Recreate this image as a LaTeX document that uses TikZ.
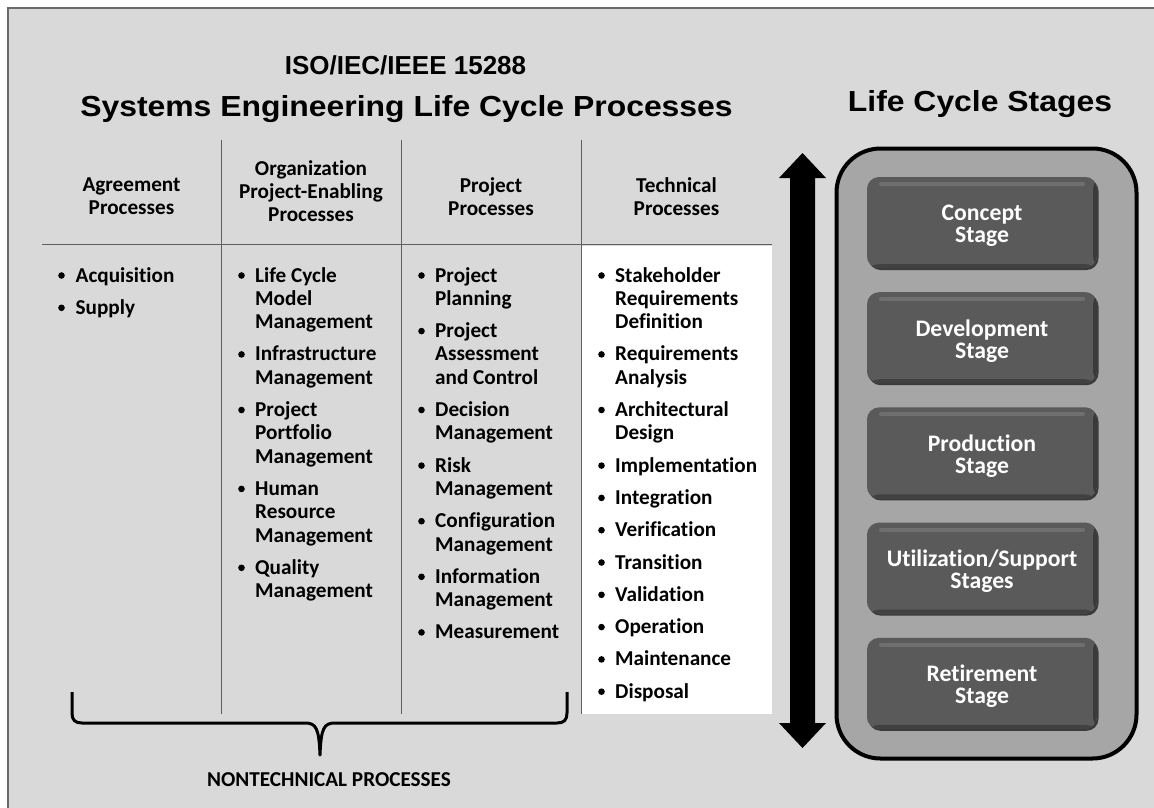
\documentclass[tikz,border=0pt]{standalone}
\usepackage{fontspec}
\setmainfont{Carlito}[Ligatures=NoCommon]
\newfontfamily\ttlfont[FakeStretch=1.1]{Liberation Sans}
\newfontfamily\isofnt{Liberation Sans}
\usetikzlibrary{shadows}
\definecolor{bgc}{HTML}{D9D9D9}
\definecolor{framec}{HTML}{6A6A6A}
\definecolor{rulec}{HTML}{5F5F5F}
\definecolor{contc}{HTML}{A6A6A6}
\definecolor{stagec}{HTML}{5A5A5A}
\definecolor{stagehi}{HTML}{6F6F6F}
\definecolor{stagesh}{HTML}{3A3A3A}
\begin{document}
\begin{tikzpicture}[x=1pt,y=-1pt,
  body/.style={font=\fontsize{21.2}{23.3}\selectfont\bfseries, inner sep=0pt, anchor=base west},
  head/.style={font=\fontsize{21.2}{23.3}\selectfont\bfseries, inner sep=0pt, anchor=base},
  rule/.style={draw=rulec, line width=1.5pt},
  bul/.style={fill=black},
  stagebox/.style={fill=stagec, rounded corners=12pt, minimum width=230pt, minimum height=91pt, inner sep=0pt,
    drop shadow={shadow xshift=1.5pt, shadow yshift=-2pt, fill=stagesh, opacity=1},
    path picture={
      \fill[stagesh] ([xshift=-4pt]path picture bounding box.north east) rectangle (path picture bounding box.south east);
      \fill[stagesh!80!stagec] ([yshift=4pt]path picture bounding box.south west) rectangle (path picture bounding box.south east);
      \draw[stagehi, line width=4pt, line cap=round]
      ([xshift=14pt,yshift=-7pt]path picture bounding box.north west) --
      ([xshift=-14pt,yshift=-7pt]path picture bounding box.north east);}},
  stagetxt/.style={text=white, font=\fontsize{23.7}{22}\selectfont\bfseries, align=center, inner sep=0pt},
]
\useasboundingbox (0,0) rectangle (1154,807);
\clip (0,0) rectangle (1154,807);
\fill[white] (0,0) rectangle (1154,807);
\draw[fill=bgc, draw=framec, line width=1.8pt] (8,8) rectangle (1180,840);

% titles
\node[font=\isofnt\fontsize{26}{30}\selectfont\bfseries, anchor=base, inner sep=0pt] (iso) at (405.5,74) {ISO/IEC/IEEE 15288};
\node[font=\ttlfont\fontsize{29}{32}\selectfont\bfseries, anchor=base, inner sep=0pt] (ttl) at (406.5,116) {Systems Engineering Life Cycle Processes};
\node[font=\ttlfont\fontsize{29}{32}\selectfont\bfseries, anchor=base, inner sep=0pt] (lcs) at (980,111) {Life Cycle Stages};

% table
\fill[white] (582,245.5) rectangle (772,714);
\draw[rule] (42,244.5) -- (772,244.5);
\foreach \x in {221.5,401.5,581.5} \draw[rule] (\x,140) -- (\x,714);

% headers
\node[head] (h1a) at (131.5,191) {Agreement};
\node[head] (h1b) at (131.5,214) {Processes};
\node[head] (h2a) at (311,175) {Organization};
\node[head] (h2b) at (311,198) {Project-Enabling};
\node[head] (h2c) at (311,221) {Processes};
\node[head] (h3a) at (491,192) {Project};
\node[head] (h3b) at (491,215) {Processes};
\node[head] (h4a) at (676.5,192) {Technical};
\node[head] (h4b) at (676.5,215) {Processes};

% column 1
\foreach \t/\y [count=\i] in {Acquisition/282, Supply/314.3}
  \node[body] (a\i) at (75.5,\y) {\t};
\foreach \y in {282,314.3} \fill[bul] (61.5,\y-6.5) circle (3.3pt);

% column 2
\foreach \t/\y [count=\i] in {Life Cycle/282, Model/305.3, Management/328.6, Infrastructure/360.9, Management/384.2, Project/416.5, Portfolio/439.8, Management/463.1, Human/495.4, Resource/518.7, Management/542.0, Quality/574.3, Management/597.6}
  \node[body] (b\i) at (255,\y) {\t};
\foreach \y in {282,360.9,416.5,495.4,574.3} \fill[bul] (241.5,\y-6.5) circle (3.3pt);

% column 3
\foreach \t/\y [count=\i] in {Project/282, Planning/305.3, Project/337.6, Assessment/360.9, and Control/384.2, Decision/416.5, Management/439.8, Risk/472.1, Management/495.4, Configuration/527.7, Management/551.0, Information/583.3, Management/606.6, Measurement/638.9}
  \node[body] (c\i) at (435,\y) {\t};
\foreach \y in {282,337.6,416.5,472.1,527.7,583.3,638.9} \fill[bul] (421.5,\y-6.5) circle (3.3pt);

% column 4
\foreach \t/\y [count=\i] in {Stakeholder/282, Requirements/305.3, Definition/328.6, Requirements/360.9, Analysis/384.2, Architectural/416.5, Design/439.8, Implementation/472.1, Integration/504.4, Verification/536.7, Transition/569.0, Validation/601.3, Operation/633.6, Maintenance/665.9, Disposal/698.2}
  \node[body] (d\i) at (615,\y) {\t};
\foreach \y in {282,360.9,416.5,472.1,504.4,536.7,569.0,601.3,633.6,665.9,698.2} \fill[bul] (601.5,\y-6.5) circle (3.3pt);

% brace
\draw[line width=3pt, line join=round] (72,692) -- (72,713) .. controls (72,720) and (75,723) .. (82,723)
  -- (305,723) .. controls (316,723) and (319,728) .. (320,755)
  .. controls (321,728) and (324,723) .. (335,723) -- (557,723)
  .. controls (564,723) and (567,720) .. (567,713) -- (567,692);
\node[head] (ntp) at (329,786) {NONTECHNICAL PROCESSES};

% double arrow
\coordinate (atop) at (802.5,153);
\coordinate (abot) at (802.5,748);
\fill (atop) -- (826,178) -- (815,178) -- (815,723) -- (826,723) -- (abot)
  -- (779,723) -- (790,723) -- (790,178) -- (779,178) -- cycle;

% stages container
\node[draw=black, line width=4pt, fill=contc, rounded corners=44pt, minimum width=300pt, minimum height=610pt, inner sep=0pt] (cont) at (986.5,453.5) {};
\foreach \n/\y/\t in {1/222.5/{Concept\\Stage}, 2/337.7/{Development\\Stage}, 3/452.9/{Production\\Stage}, 4/568.1/{Utilization/Support\\Stages}, 5/683.3/{Retirement\\Stage}}
{
  \node[stagebox] (s\n) at (982,\y) {};
  \node[stagetxt] (t\n) at ([yshift=-3.2pt]s\n.center) {\t};
}
\end{tikzpicture}
\end{document}
